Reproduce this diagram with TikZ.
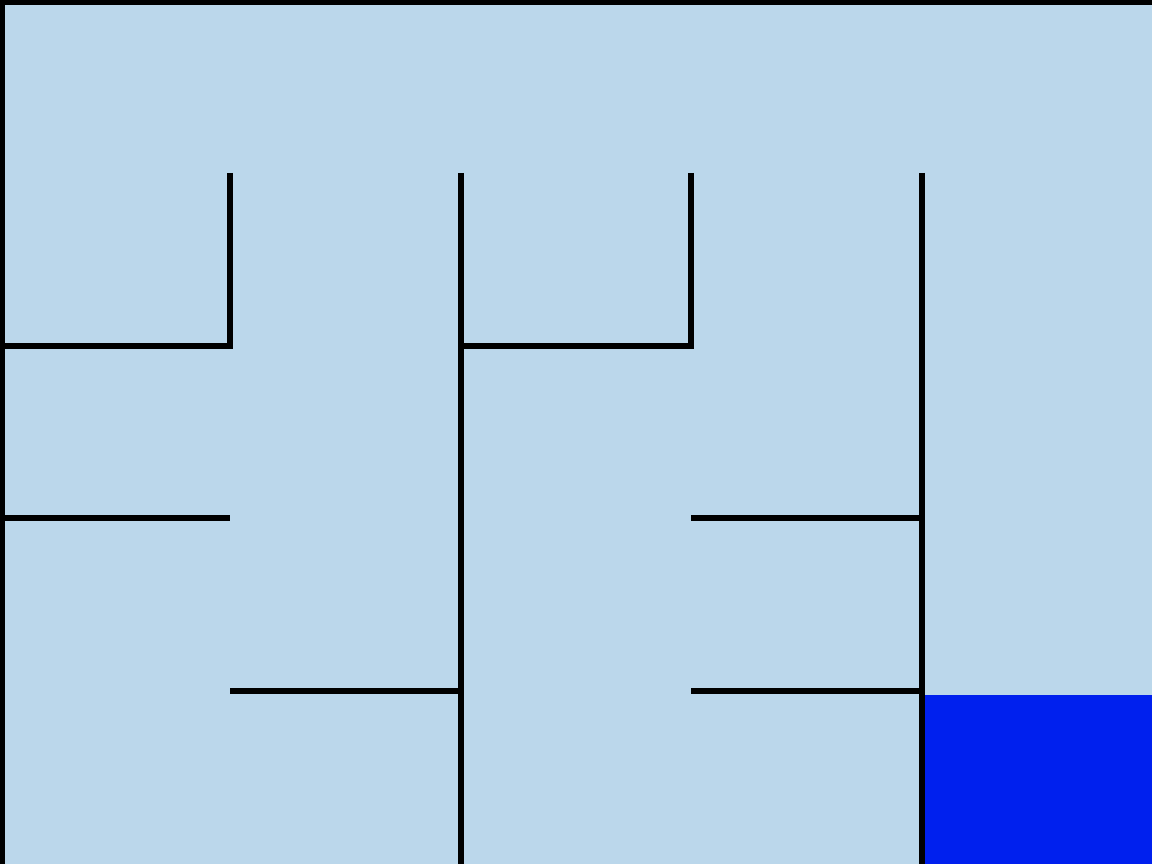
\documentclass[tikz,border=0pt]{standalone}
\usepackage{xcolor}
\usepackage{tikz}
\definecolor{MazeFloor}{HTML}{BBD7EB}
\definecolor{MazeGoal}{HTML}{0020EE}
\tikzset{wall/.style={draw=black,line width=1.5pt},
         border/.style={draw=black,line width=2.6pt}}

\begin{document}
\begin{tikzpicture}[x=1cm,y=1cm]
\path[use as bounding box] (0,0) rectangle (10,7.5);
\fill[MazeFloor] (0,0) rectangle (10,7.5);
\fill[MazeGoal] (8.03,0) rectangle (10,1.47);
% outer walls
\draw[border] (0,0) -- (0,7.5) -- (10,7.5);
% vertical walls
\draw[wall] (2,6) -- (2,4.5) -- (0,4.5);
\draw[wall] (4,6) -- (4,0);
\draw[wall] (6,6) -- (6,4.5) -- (4,4.5);
\draw[wall] (8,6) -- (8,0);
% horizontal walls
\draw[wall] (0,3) -- (2,3);
\draw[wall] (6,3) -- (8,3);
\draw[wall] (2,1.5) -- (4,1.5);
\draw[wall] (6,1.5) -- (8,1.5);
\end{tikzpicture}
\end{document}
